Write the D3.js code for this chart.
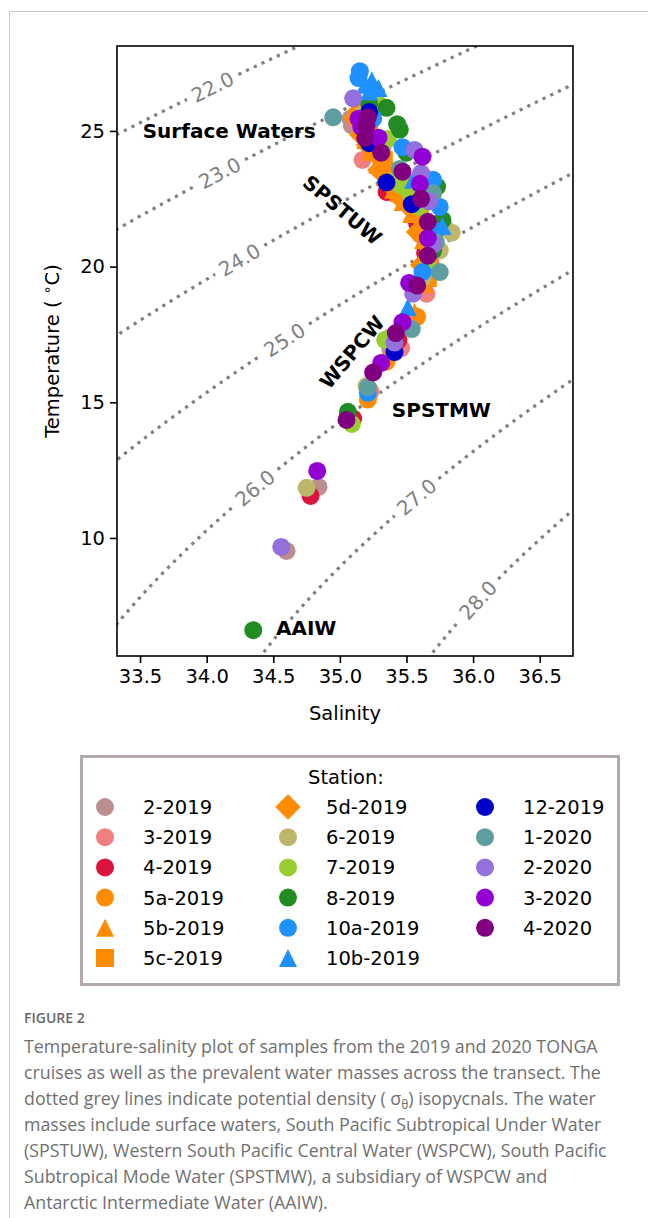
<!DOCTYPE html>
<html>
<head>
<meta charset="utf-8">
<script src="https://cdn.jsdelivr.net/npm/d3@7"></script>
<style>
  body { margin: 0; background: #fff; }
  svg { display: block; font-family: "DejaVu Sans", sans-serif; }
</style>
</head>
<body>
<svg id="chart" width="648" height="1218"></svg>
<script>
// samples per station, [salinity, temperature]
const st2_2019 = [[35.09,25.20],[35.08,25.45],[35.20,24.70],[35.35,23.60],[35.62,21.40],[35.66,20.20],[35.60,19.40],[35.38,16.95],[35.22,15.30],[34.84,11.88],[34.60,9.52]];
const st3_2019 = [[35.13,25.30],[35.17,23.93],[35.40,22.70],[35.60,21.20],[35.68,20.15],[35.65,19.00],[35.46,17.00],[35.23,15.40]];
const st4_2019 = [[35.14,25.40],[35.35,22.75],[35.58,21.60],[35.64,20.50],[35.44,17.30],[35.10,14.40],[34.78,11.55]];
const st5a_2019 = [[35.12,25.60],[35.30,24.00],[35.58,21.90],[35.66,20.00],[35.58,18.15],[35.35,16.50],[35.21,15.10]];
const st5b_2019 = [[35.135,25.77],[35.16,25.22],[35.19,24.67],[35.225,24.23],[35.28,23.75],[35.335,23.30],[35.40,22.83],[35.47,22.38],[35.535,21.94],[35.59,21.50],[35.625,20.98],[35.64,20.43],[35.64,19.88],[35.635,19.36],[35.56,18.33]];
const st5c_2019 = [[35.19,25.70],[35.22,24.96],[35.27,24.37],[35.33,23.93],[35.39,23.49],[35.46,23.01],[35.535,22.57],[35.60,22.09],[35.65,21.54],[35.67,20.80],[35.67,20.17],[35.66,19.58]];
const st5d_2019 = [[35.12,25.48],[35.165,24.85],[35.215,24.48],[35.30,23.56],[35.37,23.08],[35.445,22.60],[35.52,22.24],[35.59,21.28],[35.62,20.06]];
const st6_2019 = [[35.17,25.60],[35.32,24.40],[35.52,22.80],[35.79,21.43],[35.84,21.25],[35.75,20.60],[35.62,19.58],[35.38,17.40],[35.20,15.60],[34.75,11.85]];
const st7_2019 = [[35.28,26.03],[35.22,25.60],[35.36,24.70],[35.42,23.20],[35.46,23.00],[35.52,22.75],[35.55,22.55],[35.60,22.20],[35.70,21.10],[35.66,20.00],[35.34,17.30],[35.09,14.20]];
const st8_2019 = [[35.22,26.00],[35.35,25.85],[35.43,25.25],[35.45,25.05],[35.50,24.20],[35.73,22.95],[35.77,21.72],[35.70,20.60],[35.06,14.65],[34.35,6.60]];
const st10a_2019 = [[35.15,27.20],[35.14,26.95],[35.25,25.45],[35.47,24.40],[35.70,23.20],[35.75,22.20],[35.72,21.30],[35.62,19.80],[35.21,15.35]];
const st10b_2019 = [[35.24,26.86],[35.29,26.58],[35.19,26.70],[35.22,26.45],[35.55,23.20],[35.77,21.50],[35.51,18.50]];
const st12_2019 = [[35.22,25.70],[35.22,24.55],[35.35,23.10],[35.54,22.30],[35.41,16.85]];
const st1_2020 = [[34.95,25.50],[35.16,25.40],[35.45,23.60],[35.70,22.70],[35.72,20.90],[35.75,19.80],[35.54,17.70],[35.21,15.55]];
const st2_2020 = [[35.10,26.20],[35.56,24.30],[35.61,23.45],[35.67,22.40],[35.70,20.80],[35.55,19.00],[35.41,17.20],[34.56,9.67]];
const st3_2020 = [[35.14,25.45],[35.16,25.15],[35.29,24.75],[35.62,24.05],[35.60,23.05],[35.66,21.05],[35.52,19.40],[35.47,17.95],[35.31,16.45],[34.83,12.47]];
const st4_2020 = [[35.21,25.50],[35.20,25.20],[35.19,24.74],[35.31,24.20],[35.47,23.50],[35.61,22.50],[35.66,21.65],[35.66,20.40],[35.58,19.30],[35.42,17.55],[35.25,16.10],[35.05,14.35]];

const stationNames = ["2-2019","3-2019","4-2019","5a-2019","5b-2019","5c-2019","5d-2019","6-2019","7-2019","8-2019","10a-2019","10b-2019","12-2019","1-2020","2-2020","3-2020","4-2020"];
const stationData = [st2_2019,st3_2019,st4_2019,st5a_2019,st5b_2019,st5c_2019,st5d_2019,st6_2019,st7_2019,st8_2019,st10a_2019,st10b_2019,st12_2019,st1_2020,st2_2020,st3_2020,st4_2020];
const stationColors = ["rosybrown","lightcoral","crimson","darkorange","darkorange","darkorange","darkorange","darkkhaki","yellowgreen","forestgreen","dodgerblue","dodgerblue","mediumblue","cadetblue","mediumpurple","darkviolet","purple"];
const stationShapes = ["circle","circle","circle","circle","triangle","square","diamond","circle","circle","circle","circle","triangle","circle","circle","circle","circle","circle"];

const xTicks = [33.5,34.0,34.5,35.0,35.5,36.0,36.5];
const yTicks = [10,15,20,25];

// isopycnal levels and the temperature where each label sits
const sigmaLevels = [22,23,24,25,26,27,28];
const sigmaLabelT = [26.62,23.45,20.25,17.3,11.84,11.51,7.71];

// water mass labels [salinity, temperature], rotation
const massNames = ["Surface Waters","SPSTUW","WSPCW","SPSTMW","AAIW"];
const massPos = [[33.52,25.0],[35.02,22.09],[35.09,16.85],[35.39,14.72],[34.52,6.68]];
const massAnchor = ["start","middle","middle","start","start"];
const massAngle = [0,40,-50,0,0];

const captionLines = [
  "Temperature-salinity plot of samples from the 2019 and 2020 TONGA",
  "cruises as well as the prevalent water masses across the transect. The",
  "dotted grey lines indicate potential density ( σ|θ|) isopycnals. The water",
  "masses include surface waters, South Pacific Subtropical Under Water",
  "(SPSTUW), Western South Pacific Central Water (WSPCW), South Pacific",
  "Subtropical Mode Water (SPSTMW), a subsidiary of WSPCW and",
  "Antarctic Intermediate Water (AAIW)."
];

var margin = {top: 46, left: 117},
    width = 456,
    height = 610;

var svg = d3.select("#chart");

// outer frame
svg.append("path")
  .attr("d", "M9.5,1218V11.5H648")
  .attr("fill", "none")
  .attr("stroke", "#cccccc")
  .attr("stroke-width", 1);

var x = d3.scaleLinear().domain([33.327, 36.75]).range([0, width]);
var y = d3.scaleLinear().domain([5.65, 28.13]).range([height, 0]);

var g = svg.append("g")
  .attr("transform", "translate(" + margin.left + "," + margin.top + ")");

g.append("clipPath").attr("id", "plotclip")
  .append("rect").attr("width", width).attr("height", height);

// EOS-80 surface density minus 1000; practical salinity taken as absolute
// salinity (as the original figure's isopycnals appear to do)
function sigma0(S, T) {
  S = S * 35 / 35.16504;
  var rw = 999.842594 + 6.793952e-2*T - 9.095290e-3*T*T + 1.001685e-4*T*T*T
         - 1.120083e-6*T*T*T*T + 6.536332e-9*T*T*T*T*T;
  var A = 8.24493e-1 - 4.0899e-3*T + 7.6438e-5*T*T - 8.2467e-7*T*T*T + 5.3875e-9*T*T*T*T;
  var B = -5.72466e-3 + 1.0227e-4*T - 1.6546e-6*T*T;
  return rw + A*S + B*Math.pow(S, 1.5) + 4.8314e-4*S*S - 1000;
}

function salinityFor(level, T) {
  var lo = 25, hi = 45;
  for (var k = 0; k < 60; k++) {
    var mid = (lo + hi) / 2;
    if (sigma0(mid, T) < level) lo = mid; else hi = mid;
  }
  return (lo + hi) / 2;
}

var contours = g.append("g").attr("clip-path", "url(#plotclip)");
var line = d3.line();

sigmaLevels.forEach(function(level, i) {
  var tl = sigmaLabelT[i];
  var lx = x(salinityFor(level, tl)), ly = y(tl);
  var a1 = [x(salinityFor(level, tl - 0.1)), y(tl - 0.1)];
  var a2 = [x(salinityFor(level, tl + 0.1)), y(tl + 0.1)];
  var ang = Math.atan2(a2[1] - a1[1], a2[0] - a1[0]) * 180 / Math.PI;

  var label = g.append("text")
    .attr("transform", "translate(" + lx + "," + ly + ") rotate(" + ang + ")")
    .attr("text-anchor", "middle")
    .attr("dy", "0.36em")
    .attr("font-size", 20)
    .attr("fill", "#808080")
    .text(d3.format(".1f")(level));
  var half = label.node().getComputedTextLength() / 2 + 6;

  var segs = [], cur = [];
  for (var t = 4; t <= 30; t += 0.02) {
    var p = [x(salinityFor(level, t)), y(t)];
    if (Math.hypot(p[0] - lx, p[1] - ly) < half) {
      if (cur.length) { segs.push(cur); cur = []; }
    } else cur.push(p);
  }
  if (cur.length) segs.push(cur);

  contours.selectAll(null).data(segs).enter().append("path")
    .attr("d", line)
    .attr("fill", "none")
    .attr("stroke", "#808080")
    .attr("stroke-width", 3.2)
    .attr("stroke-dasharray", "3.2,5.3");
});

function symbolPath(shape) {
  if (shape == "triangle") return "M0,-9L9,9L-9,9Z";
  if (shape == "square") return "M-9,-9H9V9H-9Z";
  if (shape == "diamond") return "M0,-12.7L12.7,0L0,12.7L-12.7,0Z";
  return "M9,0A9,9 0 1,1 -9,0A9,9 0 1,1 9,0Z";
}

var pts = g.append("g").attr("clip-path", "url(#plotclip)");
stationData.forEach(function(data, i) {
  pts.selectAll(null).data(data).enter().append("path")
    .attr("transform", d => "translate(" + x(d[0]) + "," + y(d[1]) + ")")
    .attr("d", symbolPath(stationShapes[i]))
    .attr("fill", stationColors[i]);
});

// water mass labels
massNames.forEach(function(name, i) {
  g.append("text")
    .attr("transform", "translate(" + x(massPos[i][0]) + "," + y(massPos[i][1]) + ") rotate(" + massAngle[i] + ")")
    .attr("text-anchor", massAnchor[i])
    .attr("dy", "0.36em")
    .attr("font-size", 20)
    .attr("font-weight", "bold")
    .text(name);
});

// axes
var xAxis = g.append("g")
  .attr("transform", "translate(0," + height + ")")
  .call(d3.axisBottom(x).tickValues(xTicks).tickFormat(d3.format(".1f")).tickSize(7).tickPadding(6));
var yAxis = g.append("g")
  .call(d3.axisLeft(y).tickValues(yTicks).tickSize(7).tickPadding(5));
[xAxis, yAxis].forEach(function(ax) {
  ax.select(".domain").remove();
  ax.selectAll("line").attr("stroke", "#000").attr("stroke-width", 1.6);
  ax.selectAll("text").attr("font-size", 19.5).attr("font-family", "DejaVu Sans").attr("fill", "#000");
});

g.append("rect")
  .attr("width", width).attr("height", height)
  .attr("fill", "none").attr("stroke", "#000").attr("stroke-width", 1.6);

g.append("text")
  .attr("x", width / 2).attr("y", height + 64)
  .attr("text-anchor", "middle")
  .attr("font-size", 19.5)
  .text("Salinity");

var ylab = g.append("text")
  .attr("transform", "translate(-58," + height / 2 + ") rotate(-90)")
  .attr("text-anchor", "middle")
  .attr("font-size", 19.5);
ylab.append("tspan").text("Temperature ( ");
ylab.append("tspan").attr("font-size", 14).attr("dy", -7).text("∘");
ylab.append("tspan").attr("dy", 7).text("C)");

// legend
var leg = svg.append("g").attr("transform", "translate(80,755)");
leg.append("rect")
  .attr("x", 1.5).attr("y", 1.5)
  .attr("width", 537).attr("height", 228)
  .attr("fill", "#fff").attr("stroke", "#b3aaaa").attr("stroke-width", 3);
leg.append("text")
  .attr("x", 266).attr("y", 22).attr("dy", "0.36em")
  .attr("text-anchor", "middle")
  .attr("font-size", 19.5)
  .text("Station:");
var colX = [25, 208, 405];
stationNames.forEach(function(name, i) {
  var cx = colX[Math.floor(i / 6)], cy = 52 + (i % 6) * 30.2;
  leg.append("path")
    .attr("transform", "translate(" + cx + "," + cy + ")")
    .attr("d", symbolPath(stationShapes[i]))
    .attr("fill", stationColors[i]);
  leg.append("text")
    .attr("x", cx + 38).attr("y", cy).attr("dy", "0.36em")
    .attr("font-size", 19.5)
    .text(name);
});

// caption
svg.append("text")
  .attr("x", 24).attr("y", 1023)
  .attr("font-family", "Open Sans")
  .attr("font-size", 14)
  .attr("font-weight", 600)
  .attr("fill", "#666")
  .text("FIGURE 2");

captionLines.forEach(function(ln, i) {
  var t = svg.append("text")
    .attr("x", 24).attr("y", 1053 + i * 26)
    .attr("font-family", "Open Sans")
    .attr("font-size", 17.8)
    .attr("fill", "#707070");
  var parts = ln.split("|");
  parts.forEach(function(p, k) {
    var s = t.append("tspan").text(p);
    if (k == 1) s.attr("font-size", 12).attr("dy", 4);
    if (k == 2) s.attr("dy", -4);
  });
});
</script>
</body>
</html>
